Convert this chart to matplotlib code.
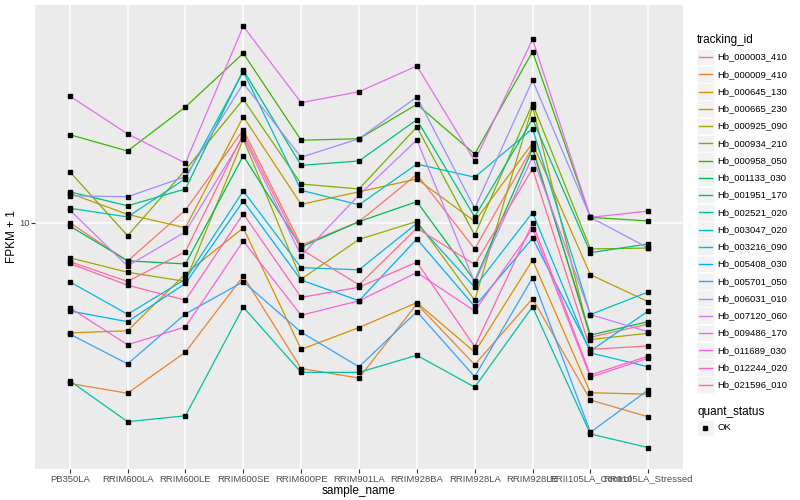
import matplotlib.pyplot as plt
from matplotlib.patches import Rectangle
from matplotlib.lines import Line2D
from matplotlib.ticker import FixedLocator, FixedFormatter, NullLocator

plt.rcParams['font.family'] = ['Liberation Sans', 'DejaVu Sans']

samples = ["PB350LA", "RRIM600LA", "RRIM600LE", "RRIM600SE", "RRIM600PE", "RRIM901LA",
           "RRIM928BA", "RRIM928LA", "RRIM928LE", "RRII105LA_Control", "RRII105LA_Stressed"]

tracking_ids = ["Hb_000003_410", "Hb_000009_410", "Hb_000645_130", "Hb_000665_230",
                "Hb_000925_090", "Hb_000934_210", "Hb_000958_050", "Hb_001133_030",
                "Hb_001951_170", "Hb_002521_020", "Hb_003047_020", "Hb_003216_090",
                "Hb_005408_030", "Hb_005701_050", "Hb_006031_010", "Hb_007120_060",
                "Hb_009486_170", "Hb_011689_030", "Hb_012244_020", "Hb_021596_010"]

# FPKM + 1, one list per gene, in sample order
hb_000003_410 = [10.00, 8.38, 10.60, 15.33, 9.01, 10.05, 12.49, 8.86, 14.17, 5.90, 6.27]
hb_000009_410 = [4.77, 4.56, 5.51, 7.82, 5.11, 4.89, 6.88, 5.20, 7.05, 4.42, 4.09]
hb_000645_130 = [6.02, 6.08, 7.90, 9.76, 5.58, 6.17, 6.92, 5.51, 8.42, 4.57, 4.54]
hb_000665_230 = [11.45, 10.39, 9.77, 16.29, 10.88, 11.53, 12.23, 10.06, 14.42, 7.87, 6.95]
hb_000925_090 = [8.51, 7.96, 7.63, 14.70, 7.71, 9.26, 10.06, 7.00, 17.06, 5.84, 6.01]
hb_000934_210 = [12.65, 9.42, 12.75, 17.65, 11.95, 11.68, 15.54, 9.45, 17.30, 8.86, 8.90]
hb_000958_050 = [15.00, 13.91, 17.04, 21.82, 14.62, 14.72, 17.25, 13.72, 21.98, 10.25, 10.08]
hb_001133_030 = [9.85, 8.39, 8.27, 13.61, 8.94, 10.05, 11.02, 7.65, 14.06, 5.96, 6.34]
hb_001951_170 = [11.53, 10.81, 11.68, 20.20, 13.02, 13.29, 16.07, 10.27, 16.12, 8.71, 9.07]
hb_002521_020 = [4.83, 4.00, 4.11, 6.78, 5.02, 5.02, 5.43, 4.69, 6.79, 3.78, 3.55]
hb_003047_020 = [10.69, 10.27, 12.25, 20.05, 11.61, 10.86, 13.10, 12.33, 15.42, 6.55, 7.27]
hb_003216_090 = [7.62, 6.56, 7.71, 11.57, 8.13, 8.05, 9.97, 7.43, 10.48, 5.49, 5.15]
hb_005408_030 = [6.66, 6.34, 7.56, 11.05, 7.68, 6.98, 9.28, 6.80, 9.31, 5.54, 6.66]
hb_005701_050 = [5.99, 5.22, 6.57, 7.62, 6.04, 5.15, 6.64, 4.92, 7.76, 3.81, 4.63]
hb_006031_010 = [11.32, 11.27, 12.36, 19.00, 13.52, 14.72, 17.84, 10.69, 19.27, 10.25, 8.90]
hb_007120_060 = [10.60, 8.19, 9.59, 14.86, 8.59, 11.36, 14.64, 7.59, 13.55, 6.55, 6.05]
hb_009486_170 = [17.92, 15.05, 13.16, 24.71, 17.38, 18.28, 20.58, 13.29, 23.27, 10.25, 10.55]
hb_011689_030 = [6.76, 5.70, 6.19, 9.19, 6.53, 6.98, 7.95, 6.66, 9.73, 4.91, 5.36]
hb_012244_020 = [8.29, 7.50, 7.00, 10.42, 7.09, 7.43, 8.34, 5.65, 9.97, 4.96, 5.41]
hb_021596_010 = [8.36, 7.63, 8.75, 15.05, 8.85, 7.51, 9.75, 8.25, 12.82, 5.58, 5.67]

series = [hb_000003_410, hb_000009_410, hb_000645_130, hb_000665_230, hb_000925_090,
          hb_000934_210, hb_000958_050, hb_001133_030, hb_001951_170, hb_002521_020,
          hb_003047_020, hb_003216_090, hb_005408_030, hb_005701_050, hb_006031_010,
          hb_007120_060, hb_009486_170, hb_011689_030, hb_012244_020, hb_021596_010]

# ggplot default hue palette for 20 levels
colors = ["#F8766D", "#EA8331", "#D89000", "#C09B00", "#A3A500", "#7CAE00", "#39B600",
          "#00BB4E", "#00BF7D", "#00C1A3", "#00BFC4", "#00BAE0", "#00B0F6", "#35A2FF",
          "#9590FF", "#C77CFF", "#E76BF3", "#FA62DB", "#FF62BC", "#FF6C91"]

W, H = 800, 500
fig = plt.figure(figsize=(8, 5), dpi=100)
ax = fig.add_axes([35 / W, 1 - 469 / H, (683 - 35) / W, (469 - 5) / H])
ax.set_facecolor("#EBEBEB")
for s in ax.spines.values():
    s.set_visible(False)

x = list(range(len(samples)))
for vals, c in zip(series, colors):
    ax.plot(x, vals, color=c, lw=0.9, zorder=2)
for vals in series:
    ax.plot(x, vals, "s", color="black", ms=2.6, zorder=3)

ax.set_yscale("log")
ax.set_ylim(3.217, 27.25)
ax.set_xlim(-0.6, len(samples) - 0.4)
ax.yaxis.set_major_locator(FixedLocator([10]))
ax.yaxis.set_major_formatter(FixedFormatter(["10"]))
ax.yaxis.set_minor_locator(NullLocator())
ax.set_xticks(x)
ax.set_xticklabels(samples)
ax.grid(True, color="white", lw=1.1)
ax.set_axisbelow(True)
ax.tick_params(colors="#333333", length=3, width=0.8, labelsize=6.8,
               labelcolor="#4D4D4D", pad=1)
ax.set_xlabel("sample_name", fontsize=8.5, va="center")
ax.set_ylabel("FPKM + 1", fontsize=8.5, va="center")
ax.xaxis.set_label_coords(0.5, -(491 - 469) / 464)
ax.yaxis.set_label_coords(-(35 - 12) / 648, 0.5)

# legends drawn by hand, ggplot style
def fx(px):
    return px / W

def fy(py):
    return 1 - py / H

fig.text(fx(697), fy(40.5), "tracking_id", fontsize=8.5, va="center", ha="left")
for i, (name, c) in enumerate(zip(tracking_ids, colors)):
    yc = 57 + i * 17.25
    fig.add_artist(Rectangle((fx(697), fy(yc + 8.3)), 16.5 / W, 16.6 / H,
                             transform=fig.transFigure, facecolor="#F2F2F2",
                             edgecolor="white", lw=0.5))
    fig.add_artist(Line2D([fx(699), fx(712)], [fy(yc), fy(yc)],
                          transform=fig.transFigure, color=c, lw=1))
    fig.text(fx(717), fy(yc), name, fontsize=6.8, va="center", ha="left")

fig.text(fx(697), fy(411.5), "quant_status", fontsize=8.5, va="center", ha="left")
fig.add_artist(Rectangle((fx(697), fy(428 + 8.3)), 16.5 / W, 16.6 / H,
                         transform=fig.transFigure, facecolor="#F2F2F2",
                         edgecolor="white", lw=0.5))
fig.add_artist(Line2D([fx(705.2)], [fy(428)], transform=fig.transFigure,
                      marker="s", color="black", ms=2.6, lw=0))
fig.text(fx(717), fy(428), "OK", fontsize=6.8, va="center", ha="left")

fig.savefig("out.png", dpi=100)
